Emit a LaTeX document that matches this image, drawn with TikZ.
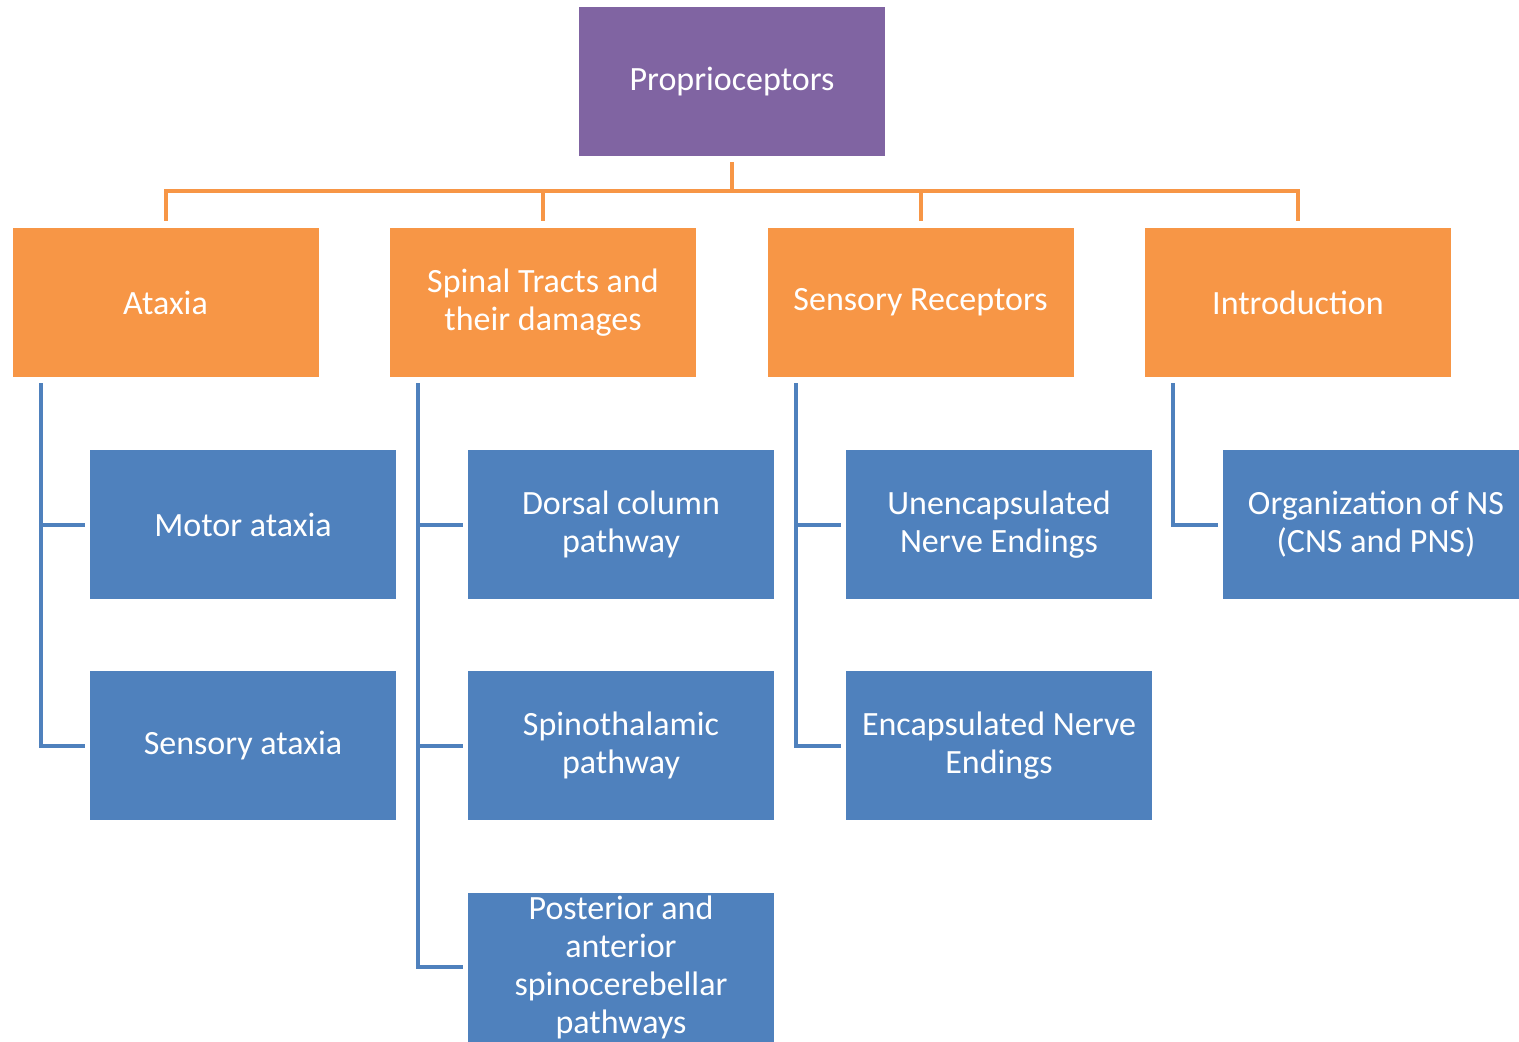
\documentclass[tikz,border=0pt]{standalone}
\usepackage{fontspec}
\setmainfont{Carlito}
\definecolor{cpurple}{HTML}{8064A2}
\definecolor{corange}{HTML}{F79646}
\definecolor{cblue}{HTML}{4F81BD}
\begin{document}
\begin{tikzpicture}[x=0.5pt,y=-0.5pt,
  box/.style={minimum width=153pt,minimum height=74.5pt,inner sep=0pt,align=center,text=white,font=\fontsize{17}{19}\selectfont},
  topbox/.style={box,fill=cpurple},
  obox/.style={box,fill=corange},
  bbox/.style={box,fill=cblue},
  oline/.style={draw=corange,line width=2pt},
  bline/.style={draw=cblue,line width=2pt,shorten <=3pt,shorten >=2.5pt}]
\useasboundingbox (0,0) rectangle (1519,1041);
\clip (0,0) rectangle (1519,1041);
\node[topbox] (root) at (732,81.5) {Proprioceptors};
\node[obox] (ataxia) at (165.5,302.5) {Ataxia};
\node[obox] (spinal) at (543,302.5) {Spinal Tracts and\\their damages};
\node[obox] (sensrec) at (920.5,302.5) {Sensory Receptors};
\node[obox] (intro) at (1298,302.5) {Introduction};
\node[bbox] (motor) at (243,524.5) {Motor ataxia};
\node[bbox] (sensat) at (243,745.5) {Sensory ataxia};
\node[bbox] (dorsal) at (621,524.5) {Dorsal column\\pathway};
\node[bbox] (spino) at (621,745.5) {Spinothalamic\\pathway};
\node[bbox] (post) at (621,967) {Posterior and\\anterior\\spinocerebellar\\pathways};
\node[bbox] (unenc) at (999,524.5) {Unencapsulated\\Nerve Endings};
\node[bbox] (enc) at (999,745.5) {Encapsulated Nerve\\Endings};
\node[bbox] (org) at (1376,524.5) {Organization of NS\\(CNS and PNS)};
% orange connectors
\coordinate (bus) at (732,191);
\draw[oline,shorten <=3pt] (root.south) -- (root.south |- bus);
\draw[oline,shorten <=3.5pt,shorten >=3.5pt] (ataxia.north) -- ([yshift=18.5pt]ataxia.north) -| (intro.north);
\draw[oline,shorten >=3.5pt] ([yshift=18.5pt]spinal.north) -- (spinal.north);
\draw[oline,shorten >=3.5pt] ([yshift=18.5pt]sensrec.north) -- (sensrec.north);
% blue connectors
\draw[bline] ([xshift=14.5pt]ataxia.south west) |- (motor.west);
\draw[bline] ([xshift=14.5pt]ataxia.south west) |- (sensat.west);
\draw[bline] ([xshift=14pt]spinal.south west) |- (dorsal.west);
\draw[bline] ([xshift=14pt]spinal.south west) |- (spino.west);
\draw[bline] ([xshift=14pt]spinal.south west) |- (post.west);
\draw[bline] ([xshift=14.5pt]sensrec.south west) |- (unenc.west);
\draw[bline] ([xshift=14.5pt]sensrec.south west) |- (enc.west);
\draw[bline] ([xshift=14pt]intro.south west) |- (org.west);
\end{tikzpicture}
\end{document}
